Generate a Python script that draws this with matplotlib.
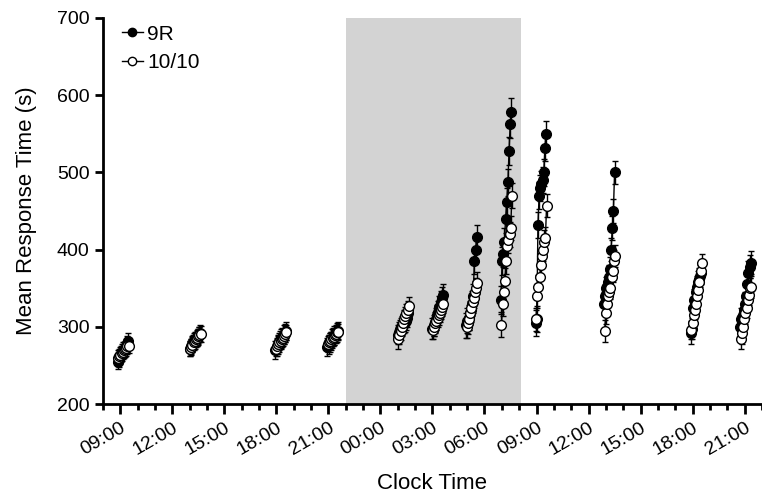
import numpy as np
import matplotlib
matplotlib.use("Agg")
import matplotlib.pyplot as plt
from matplotlib.lines import Line2D
from matplotlib.ticker import MultipleLocator, FixedLocator

plt.rcParams['font.family'] = ['Liberation Sans', 'DejaVu Sans']

# session start (hours from midnight of day 1) and trial offsets (minutes)
session_start = [8.85, 13.0, 17.95, 20.95, 25.0, 27.0, 28.95, 30.95, 32.95, 36.9, 41.9, 44.75]
trial_offset = [0, 4, 8, 12, 16, 20, 24, 28, 32, 36]

# mean response times (s), one list per session
rt_9r = [
    [255, 258, 262, 265, 268, 270, 272, 275, 278, 282],
    [272, 275, 278, 280, 282, 284, 285, 287, 290, 292],
    [270, 274, 277, 280, 283, 285, 287, 290, 292, 295],
    [274, 277, 280, 282, 285, 287, 289, 291, 293, 295],
    [290, 294, 297, 300, 302, 304, 306, 308, 312, 318],
    [298, 302, 306, 310, 315, 320, 326, 332, 338, 342],
    [302, 308, 312, 318, 322, 330, 340, 385, 400, 416],
    [335, 385, 395, 410, 440, 462, 487, 528, 563, 578],
    [305, 310, 432, 470, 480, 485, 490, 500, 532, 550],
    [330, 340, 350, 358, 365, 375, 400, 428, 450, 500],
    [292, 298, 325, 335, 345, 352, 358, 362, 366, 370],
    [300, 310, 315, 322, 330, 340, 355, 370, 378, 383],
]
rt_1010 = [
    [260, 262, 264, 266, 268, 270, 271, 273, 275, 276],
    [272, 274, 277, 280, 282, 284, 286, 288, 290, 291],
    [272, 275, 278, 280, 282, 284, 286, 288, 291, 293],
    [278, 280, 282, 284, 286, 287, 289, 291, 293, 294],
    [284, 290, 295, 300, 305, 310, 314, 318, 322, 327],
    [296, 300, 305, 308, 312, 315, 318, 322, 326, 330],
    [300, 305, 310, 318, 325, 332, 338, 345, 350, 357],
    [303, 330, 345, 360, 385, 405, 412, 420, 428, 470],
    [310, 340, 352, 365, 380, 392, 400, 410, 415, 457],
    [295, 318, 330, 340, 345, 350, 365, 372, 385, 392],
    [296, 305, 315, 322, 330, 340, 348, 358, 372, 383],
    [285, 292, 300, 310, 318, 325, 335, 342, 350, 352],
]
err_9r = [10, 10, 12, 12, 12, 14, 16, 18, 17, 15, 14, 15]
err_1010 = [10, 10, 10, 10, 12, 12, 14, 16, 15, 14, 12, 14]

dark_start, dark_end = 22, 32.1
tick_hours = list(range(9, 46, 3))

fig = plt.figure(figsize=(7.62, 4.96), dpi=100)
ax = fig.add_axes([0.135, 0.185, 0.865, 0.779])

ax.axvspan(dark_start, dark_end, color='#d3d3d3', lw=0, zorder=0)

offs = np.array(trial_offset) / 60.0
for i, t0 in enumerate(session_start):
    x = t0 + offs
    ax.errorbar(x, rt_9r[i], yerr=err_9r[i], fmt='-o', color='black', mfc='black',
                mec='black', ms=7, lw=1, elinewidth=1, capsize=2, zorder=2)
    ax.errorbar(x + 0.03, rt_1010[i], yerr=err_1010[i], fmt='-o', color='black', mfc='white',
                mec='black', ms=7, lw=1, elinewidth=1, capsize=2, zorder=3)

ax.set_xlim(8, 46)
ax.set_ylim(200, 700)
ax.yaxis.set_major_locator(MultipleLocator(100))
ax.xaxis.set_major_locator(FixedLocator(tick_hours))
ax.xaxis.set_minor_locator(MultipleLocator(1))
ax.set_xticklabels(['%02d:00' % (h % 24) for h in tick_hours], rotation=30,
                   ha='right', rotation_mode='anchor')

for s in ['top', 'right']:
    ax.spines[s].set_visible(False)
for s in ['left', 'bottom']:
    ax.spines[s].set_linewidth(2)
ax.tick_params(axis='both', which='major', direction='out', length=7, width=2,
               labelsize=14, colors='black')
ax.tick_params(axis='y', which='major', length=6)
ax.tick_params(axis='x', which='minor', direction='out', length=4, width=2)
ax.tick_params(axis='x', which='major', pad=4)

ax.set_xlabel('Clock Time', fontsize=16, labelpad=10)
ax.set_ylabel('Mean Response Time (s)', fontsize=16, labelpad=14)

handles = [
    Line2D([], [], color='black', lw=1, marker='o', ms=6, mfc='black', mec='black'),
    Line2D([], [], color='black', lw=1, marker='o', ms=6, mfc='white', mec='black'),
]
ax.legend(handles, ['9R', '10/10'], loc='upper left', frameon=False, fontsize=15,
          handlelength=1.0, handletextpad=0.2, borderaxespad=0.2, labelspacing=0.45,
          bbox_to_anchor=(0.01, 1.015))

fig.savefig('out.png', dpi=100)
